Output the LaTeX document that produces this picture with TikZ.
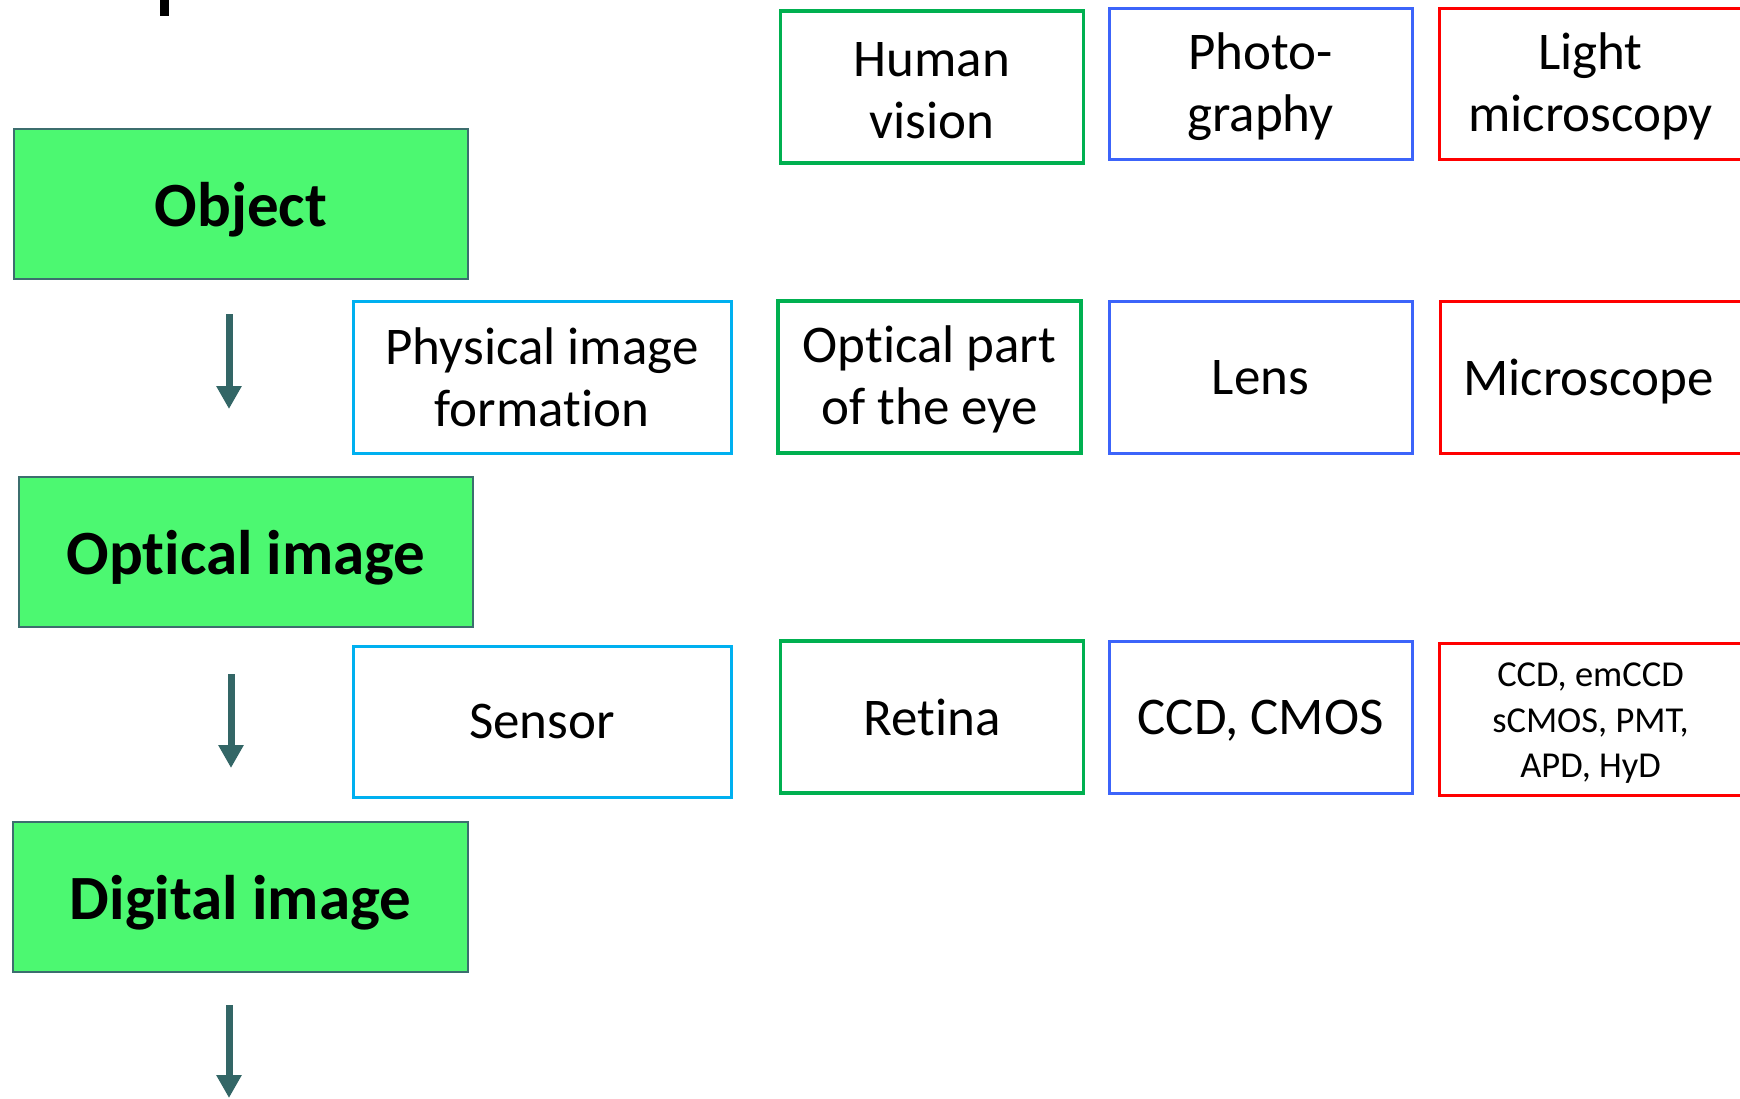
\documentclass[tikz,border=0pt]{standalone}
\usepackage{fontspec}
\setmainfont{Carlito}[Ligatures=NoCommon]
\usetikzlibrary{arrows.meta}
\definecolor{stagefill}{RGB}{76,248,113}
\definecolor{stageedge}{RGB}{60,110,110}
\definecolor{flowteal}{RGB}{51,102,102}
\definecolor{stepcyan}{RGB}{0,176,240}
\definecolor{visgreen}{RGB}{0,176,80}
\definecolor{photoblue}{RGB}{60,100,250}
\definecolor{microred}{RGB}{255,0,0}
% invisible strut that lowers a multi-line label by half of (#1 - first line height)
\newcommand{\toppad}[1]{\rule{0pt}{#1}}
\tikzset{
  stage/.style={draw=stageedge, line width=1.6pt, fill=stagefill, inner sep=0pt,
    minimum width=454pt, minimum height=150pt, text depth=0pt,
    font=\fontsize{63}{70}\selectfont\bfseries},
  box/.style={inner sep=0pt, minimum width=303pt, minimum height=152pt, align=center,
    font=\fontsize{53}{62}\selectfont},
  oneline/.style={text depth=0pt},
  stepbox/.style={box, draw=stepcyan, line width=3pt, minimum width=378pt},
  visbox/.style={box, draw=visgreen, line width=3.8pt},
  photobox/.style={box, draw=photoblue, line width=3pt},
  microbox/.style={box, draw=microred, line width=3pt},
  flow/.style={draw=flowteal, line width=7pt,
    -{Triangle[length=23pt, width=24pt]}}
}
\begin{document}
\begin{tikzpicture}[x=1pt, y=-1pt]
\useasboundingbox (0,0) rectangle (1740,1098);
\begin{scope}
\clip (0,0) rectangle (1740,1098);
% fragment of the heading at the top edge
\fill[black] (160,0) rectangle (169,16);

% main pipeline
\node[stage] (object) at (241,204) {Object};
\node[stage] (optical) at (246,552) {Optical image};
\node[stage, minimum width=455pt] (digital) at (240.5,897) {Digital image};

\node[stepbox] (formation) at (542,377) {Physical image\\formation};
\node[stepbox, oneline, minimum height=151pt] (sensor) at (542,721.5) {Sensor};

% flow arrows
\coordinate (a1s) at (229,314);
\coordinate (a1e) at (229,409);
\coordinate (a2s) at (231,674);
\coordinate (a2e) at (231,768);
\coordinate (a3s) at (229,1005);
\coordinate (a3e) at (229,1098);
\draw[flow] (a1s) -- (a1e);
\draw[flow] (a2s) -- (a2e);
\draw[flow] (a3s) -- (a3e);

% human vision column
\node[visbox] (vision) at (932,87) {\toppad{42pt}Human\\vision};
\node[visbox] (eye) at (929.5,377) {\toppad{41pt}Optical part\\of the eye};
\node[visbox, oneline] (retina) at (932,717) {Retina};

% photography column
\node[photobox, minimum height=151pt] (photo) at (1260.5,83.5) {\toppad{43pt}Photo-\\graphy};
\node[photobox, oneline] (lens) at (1260.5,377) {Lens};
\node[photobox, oneline] (cmos) at (1260.5,717) {CCD, CMOS};

% light microscopy column
\node[microbox, minimum height=151pt] (lightmicro) at (1590.5,83.5) {\toppad{43pt}Light\\microscopy};
\node[microbox, oneline] (scope) at (1591.5,377) {\hspace*{-6pt}Microscope};
\node[microbox, font=\fontsize{36.5}{45.5}\selectfont] (detectors) at (1590.5,719)
  {\toppad{32pt}CCD, emCCD\\sCMOS, PMT,\\APD, HyD};
\end{scope}
\end{tikzpicture}
\end{document}
